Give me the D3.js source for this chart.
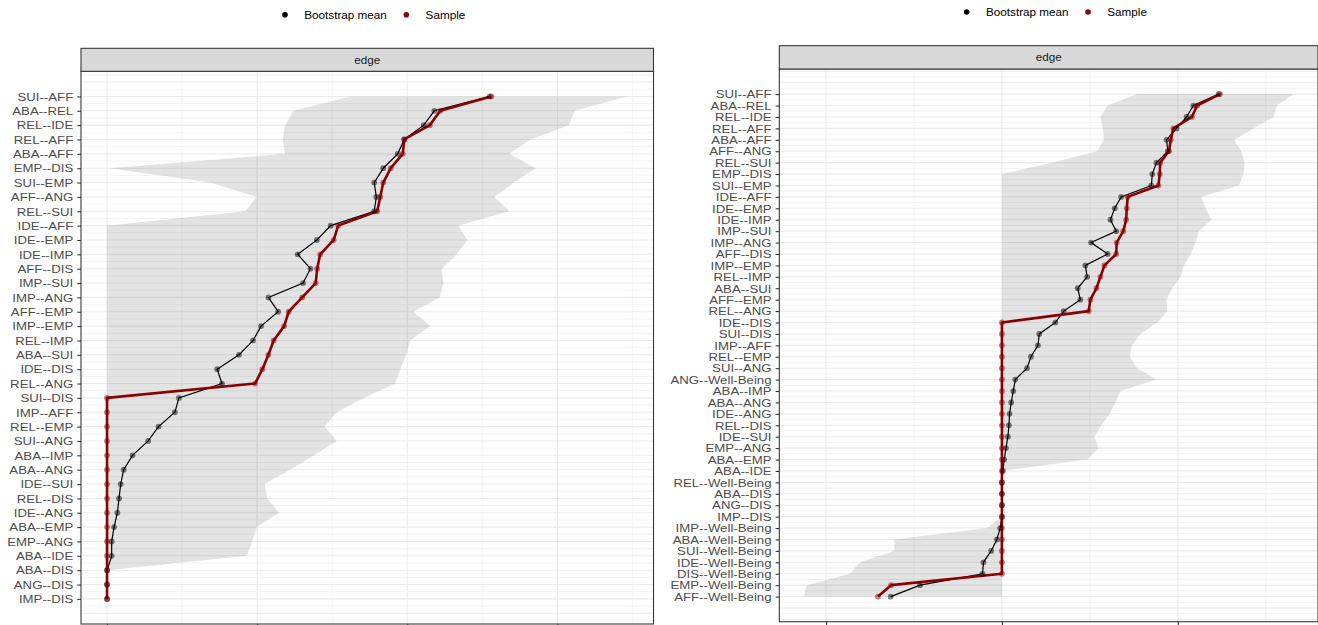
<!DOCTYPE html>
<html>
<head>
<meta charset="utf-8">
<script src="https://cdn.jsdelivr.net/npm/d3@7"></script>
<style>
  body { margin: 0; background: #fff; }
  svg { display: block; font-family: "Liberation Sans", Arial, sans-serif; }
</style>
</head>
<body>
<div id="chart"></div>
<script>
// ---- data: left network (9 nodes) ----
var leftLabels = ["SUI--AFF","ABA--REL","REL--IDE","REL--AFF","ABA--AFF","EMP--DIS","SUI--EMP","AFF--ANG","REL--SUI",
  "IDE--AFF","IDE--EMP","IDE--IMP","AFF--DIS","IMP--SUI","IMP--ANG","AFF--EMP","IMP--EMP","REL--IMP","ABA--SUI",
  "IDE--DIS","REL--ANG","SUI--DIS","IMP--AFF","REL--EMP","SUI--ANG","ABA--IMP","ABA--ANG","IDE--SUI","REL--DIS",
  "IDE--ANG","ABA--EMP","EMP--ANG","ABA--IDE","ABA--DIS","ANG--DIS","IMP--DIS"];
var leftSample = [0.256,0.222,0.215,0.198,0.197,0.189,0.184,0.182,0.180,
  0.154,0.151,0.142,0.140,0.139,0.130,0.121,0.118,0.111,0.1075,
  0.1035,0.0986,0,0,0,0,0,0,0,0,
  0,0,0,0,0,0,0];
var leftBoot = [0.255,0.218,0.211,0.198,0.1936,0.184,0.178,0.1794,0.178,
  0.149,0.1398,0.127,0.1355,0.1306,0.1075,0.114,0.1026,0.0973,0.0879,
  0.0734,0.0766,0.0479,0.0452,0.0343,0.0274,0.017,0.0111,0.0091,0.008,
  0.0069,0.0047,0.0031,0.0031,0.0001,0,0];
var leftLower = [0.162,0.124,0.1186,0.117,0.1186,0.0018,0.0686,0.0997,0.092,
  0,0,0,0,0,0,0,0,0,0,
  0,0,0,0,0,0,0,0,0,0,
  0,0,0,0,0,0,0];
var leftUpper = [0.3467,0.3115,0.3077,0.282,0.268,0.2855,0.271,0.258,0.268,
  0.234,0.240,0.233,0.223,0.224,0.2216,0.204,0.2154,0.202,0.1994,
  0.1954,0.192,0.171,0.153,0.145,0.153,0.138,0.122,0.105,0.1066,
  0.1146,0.0999,0.0966,0.0933,0,0,0];
var leftMajor = [0, 0.1, 0.2, 0.3];
var leftMinor = [0.05, 0.15, 0.25, 0.35];

// ---- data: right network (with Well-Being) ----
var rightLabels = ["SUI--AFF","ABA--REL","REL--IDE","REL--AFF","ABA--AFF","AFF--ANG","REL--SUI","EMP--DIS","SUI--EMP",
  "IDE--AFF","IDE--EMP","IDE--IMP","IMP--SUI","IMP--ANG","AFF--DIS","IMP--EMP","REL--IMP","ABA--SUI","AFF--EMP",
  "REL--ANG","IDE--DIS","SUI--DIS","IMP--AFF","REL--EMP","SUI--ANG","ANG--Well-Being","ABA--IMP","ABA--ANG",
  "IDE--ANG","REL--DIS","IDE--SUI","EMP--ANG","ABA--EMP","ABA--IDE","REL--Well-Being","ABA--DIS","ANG--DIS",
  "IMP--DIS","IMP--Well-Being","ABA--Well-Being","SUI--Well-Being","IDE--Well-Being","DIS--Well-Being",
  "EMP--Well-Being","AFF--Well-Being"];
var rightSample = [0.248,0.222,0.216,0.195,0.192,0.190,0.180,0.1795,0.178,
  0.143,0.142,0.1413,0.138,0.1305,0.130,0.1166,0.112,0.1075,0.1006,
  0.0987,0,0,0,0,0,0,0,0,
  0,0,0,0,0,0,0,0,0,
  0,0,0,0,0,0,
  -0.126,-0.141];
var rightBoot = [0.2465,0.2177,0.210,0.1986,0.1872,0.1887,0.1758,0.171,0.170,
  0.1356,0.1283,0.1234,0.130,0.1014,0.1203,0.0949,0.0969,0.0862,0.0892,
  0.0702,0.0607,0.0425,0.041,0.033,0.0285,0.0152,0.0129,0.0106,
  0.0087,0.008,0.0068,0.0046,0.0026,0.0011,0,0,0,
  0,-0.002,-0.0057,-0.0122,-0.021,-0.022,
  -0.0931,-0.1265];
var rightLower = [0.1538,0.1197,0.112,0.115,0.1158,0.1083,0.057,0,0,
  0,0,0,0,0,0,0,0,0,0,
  0,0,0,0,0,0,0,0,0,
  0,0,0,0,0,0,0,0,0,
  0,-0.017,-0.1224,-0.1224,-0.1615,-0.173,
  -0.222,-0.2253];
var rightUpper = [0.3316,0.3126,0.3088,0.2864,0.264,0.2724,0.2761,0.2746,0.2696,
  0.2268,0.2317,0.2382,0.224,0.2203,0.2146,0.207,0.2032,0.1937,0.1872,
  0.188,0.1766,0.1576,0.1481,0.1454,0.1538,0.1758,0.1348,0.1291,
  0.1226,0.1132,0.1052,0.1101,0.0969,0,0,0,0,
  0,0,0,0,0,0,
  0,0];
var rightMajor = [-0.2, 0, 0.2];
var rightMinor = [-0.1, 0.1, 0.3];

var seriesNames = ["Bootstrap mean", "Sample"];
var stripLabel = "edge";

var col_boot = "#000000";
var col_sample = "#8B0000";

var W = 1318, H = 625;
var svg = d3.select("#chart").append("svg").attr("width", W).attr("height", H);

var panels = [
  {labels: leftLabels, sample: leftSample, boot: leftBoot, lower: leftLower, upper: leftUpper,
   major: leftMajor, minor: leftMinor,
   left: 81, right: 653.5, stripTop: 48.3, top: 71.3, bottom: 624, legendX: 285, legendY: 14.7},
  {labels: rightLabels, sample: rightSample, boot: rightBoot, lower: rightLower, upper: rightUpper,
   major: rightMajor, minor: rightMinor,
   left: 779.3, right: 1318, stripTop: 45.7, top: 69, bottom: 621.7, legendX: 966.7, legendY: 12}
];

panels.forEach(function(p, pi) {
  var n = p.labels.length;
  var rows = p.labels.map(function(l, i) {
    return {label: l, sample: p.sample[i], boot: p.boot[i], lower: p.lower[i], upper: p.upper[i]};
  });

  // ggplot-like 5% expansion
  var lo = d3.min(rows, function(d) { return Math.min(d.lower, d.sample, d.boot); });
  var hi = d3.max(rows, function(d) { return Math.max(d.upper, d.sample, d.boot); });
  var ex = (hi - lo) * 0.05;
  var x = d3.scaleLinear().domain([lo - ex, hi + ex]).range([p.left, p.right]);
  var pad = (n - 1) * 0.05;
  var y = d3.scalePoint().domain(p.labels).range([p.top, p.bottom]).padding(pad);
  var step = y.step();

  var g = svg.append("g");
  var clipId = "clip" + pi;
  g.append("clipPath").attr("id", clipId).append("rect")
    .attr("x", p.left).attr("y", p.top).attr("width", p.right - p.left).attr("height", p.bottom - p.top);

  var plot = g.append("g").attr("clip-path", "url(#" + clipId + ")");
  plot.append("rect").attr("x", p.left).attr("y", p.top)
    .attr("width", p.right - p.left).attr("height", p.bottom - p.top).attr("fill", "#fff");

  // horizontal grid, every half step
  var y0 = y(p.labels[0]);
  var kmax = Math.floor(pad * 2);
  for (var k = -kmax; k <= 2 * (n - 1) + kmax; k++) {
    var yy = y0 + k * step / 2;
    plot.append("line").attr("x1", p.left).attr("x2", p.right).attr("y1", yy).attr("y2", yy)
      .attr("stroke", "#ebebeb").attr("stroke-width", k % 2 === 0 ? 1.07 : 0.6);
  }
  // vertical grid
  p.minor.forEach(function(v) {
    plot.append("line").attr("x1", x(v)).attr("x2", x(v)).attr("y1", p.top).attr("y2", p.bottom)
      .attr("stroke", "#ebebeb").attr("stroke-width", 0.6);
  });
  p.major.forEach(function(v) {
    plot.append("line").attr("x1", x(v)).attr("x2", x(v)).attr("y1", p.top).attr("y2", p.bottom)
      .attr("stroke", "#ebebeb").attr("stroke-width", 1.07);
  });

  // bootstrap CI ribbon
  var area = d3.area()
    .y(function(d) { return y(d.label); })
    .x0(function(d) { return x(d.lower); })
    .x1(function(d) { return x(d.upper); });
  plot.append("path").attr("d", area(rows)).attr("fill", "#000").attr("fill-opacity", 0.11);

  var lineBoot = d3.line().x(function(d) { return x(d.boot); }).y(function(d) { return y(d.label); });
  var lineSample = d3.line().x(function(d) { return x(d.sample); }).y(function(d) { return y(d.label); });

  plot.append("path").attr("d", lineBoot(rows)).attr("fill", "none")
    .attr("stroke", col_boot).attr("stroke-width", 1.2);
  plot.append("path").attr("d", lineSample(rows)).attr("fill", "none")
    .attr("stroke", col_sample).attr("stroke-width", 2.6).attr("stroke-linejoin", "round");

  plot.append("g").selectAll("circle").data(rows).enter().append("circle")
    .attr("cx", function(d) { return x(d.boot); })
    .attr("cy", function(d) { return y(d.label); })
    .attr("r", 2.9).attr("fill", col_boot).attr("fill-opacity", 0.5);
  plot.append("g").selectAll("circle").data(rows).enter().append("circle")
    .attr("cx", function(d) { return x(d.sample); })
    .attr("cy", function(d) { return y(d.label); })
    .attr("r", 2.9).attr("fill", col_sample).attr("fill-opacity", 0.5);

  // panel border
  g.append("rect").attr("x", p.left).attr("y", p.top)
    .attr("width", p.right - p.left).attr("height", p.bottom - p.top)
    .attr("fill", "none").attr("stroke", "#333").attr("stroke-width", 1.07);

  // strip
  g.append("rect").attr("x", p.left).attr("y", p.stripTop)
    .attr("width", p.right - p.left).attr("height", p.top - p.stripTop)
    .attr("fill", "#d9d9d9").attr("stroke", "#333").attr("stroke-width", 1.07);
  g.append("text").attr("x", (p.left + p.right) / 2).attr("y", (p.stripTop + p.top) / 2 + 4)
    .attr("text-anchor", "middle").attr("font-size", "11.7px").attr("fill", "#1a1a1a").text(stripLabel);

  // y axis
  var yAxis = g.append("g").attr("transform", "translate(" + p.left + ",0)")
    .call(d3.axisLeft(y).tickSize(3.7).tickPadding(0));
  yAxis.select(".domain").remove();
  yAxis.selectAll(".tick line").attr("stroke", "#333").attr("stroke-width", 1.07);
  yAxis.selectAll(".tick text")
    .attr("x", -6.9).attr("transform", "scale(1.13,1)")
    .attr("font-size", "11.7px").attr("font-family", "'Liberation Sans', Arial, sans-serif")
    .attr("fill", "#4d4d4d");

  // x axis ticks (labels fall below the picture)
  var xAxis = g.append("g").attr("transform", "translate(0," + p.bottom + ")")
    .call(d3.axisBottom(x).tickValues(p.major).tickSize(3.7).tickFormat(""));
  xAxis.select(".domain").remove();
  xAxis.selectAll(".tick line").attr("stroke", "#333").attr("stroke-width", 1.07);

  // legend
  var lg = g.append("g");
  var lx = p.legendX;
  [[seriesNames[0], col_boot], [seriesNames[1], col_sample]].forEach(function(item) {
    lg.append("circle").attr("cx", lx).attr("cy", p.legendY).attr("r", 2.8).attr("fill", item[1]);
    var t = lg.append("text").attr("x", lx + 19.3).attr("y", p.legendY + 4.2)
      .attr("font-size", "11.7px").attr("fill", "#000").text(item[0]);
    lx = lx + 19.3 + t.node().getComputedTextLength() + 19.5;
  });
});
</script>
</body>
</html>
